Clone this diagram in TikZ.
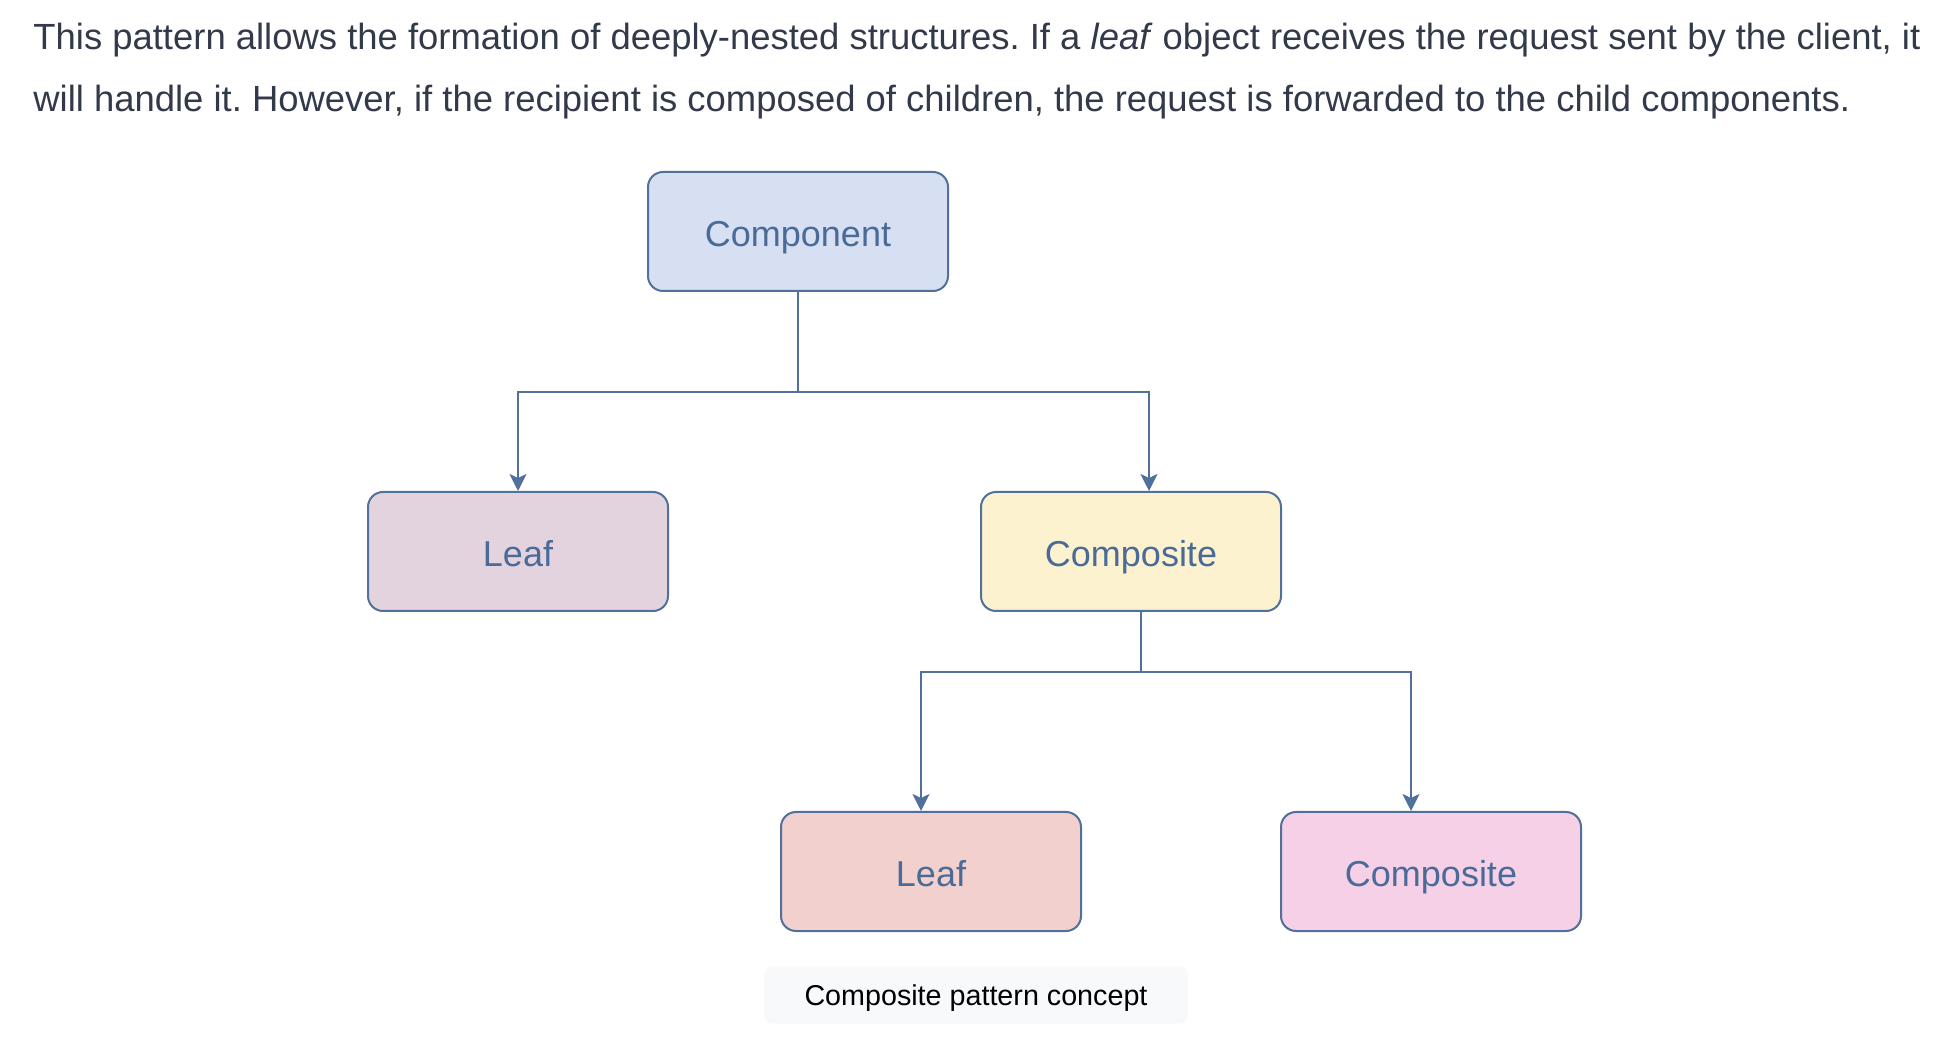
\documentclass[tikz,border=0pt]{standalone}
\usepackage{fontspec}
\setmainfont{Liberation Sans}
\usetikzlibrary{arrows.meta}

\definecolor{lineblue}{RGB}{81,112,155}
\definecolor{labelblue}{RGB}{74,106,151}
\definecolor{bodytext}{RGB}{50,58,74}
\definecolor{compfill}{RGB}{214,224,242}
\definecolor{leaffill}{RGB}{227,211,223}
\definecolor{cpstfill}{RGB}{252,242,208}
\definecolor{leafbfill}{RGB}{242,208,206}
\definecolor{cpstbfill}{RGB}{246,208,230}
\definecolor{capfill}{RGB}{248,249,250}

\tikzset{
    box/.style={draw=lineblue, line width=1pt, rounded corners=7.5pt,
        minimum width=150pt, minimum height=59.5pt, inner sep=0pt,
        text height=15.4pt, text depth=0pt,
        text=labelblue, font=\fontsize{18}{21}\selectfont},
    link/.style={draw=lineblue, line width=1pt},
    arr/.style={link, -{Stealth[width=8.5pt,length=8.5pt,inset=2pt]}},
    para/.style={anchor=base west, inner sep=0pt, text=bodytext,
        font=\fontsize{18.22}{22}\selectfont\frenchspacing}
}

\begin{document}
\begin{tikzpicture}[x=0.5pt, y=-0.5pt]
    \useasboundingbox (0,0) rectangle (1944,1052);

    % text above the figure
    \node[para] (line1) at (33,50) {This pattern allows the formation of deeply-nested structures. If a \textit{leaf} object receives the request sent by the client, it};
    \node[para] (line2) at (33,112) {will handle it. However, if the recipient is composed of children, the request is forwarded to the child components.};

    % boxes
    \node[box, fill=compfill] (comp) at (798,231.5) {Component};
    \node[box, fill=leaffill] (leafa) at (518,551.5) {Leaf};
    \node[box, fill=cpstfill] (cpsta) at (1131,551.5) {Composite};
    \node[box, fill=leafbfill] (leafb) at (931,871.5) {Leaf};
    \node[box, fill=cpstbfill] (cpstb) at (1431,871.5) {Composite};

    % connectors
    \coordinate (j1) at (798,392);
    \coordinate (j2) at (1141,672);
    \draw[link] (comp.south) -- (j1);
    \draw[arr] (j1) -| (leafa.north);
    \draw[arr] (j1) -| ([xshift=9pt]cpsta.north);
    \draw[link] ([xshift=5pt]cpsta.south) -- (j2);
    \draw[arr] (j2) -| ([xshift=-5pt]leafb.north);
    \draw[arr] (j2) -| ([xshift=-10pt]cpstb.north);

    % caption
    \node[fill=capfill, rounded corners=4pt, minimum width=212pt, minimum height=28.5pt,
        inner sep=0pt, text height=10.3pt, text depth=0pt,
        font=\fontsize{14.35}{17}\selectfont] (caption) at (976,995) {Composite pattern concept};
\end{tikzpicture}
\end{document}
